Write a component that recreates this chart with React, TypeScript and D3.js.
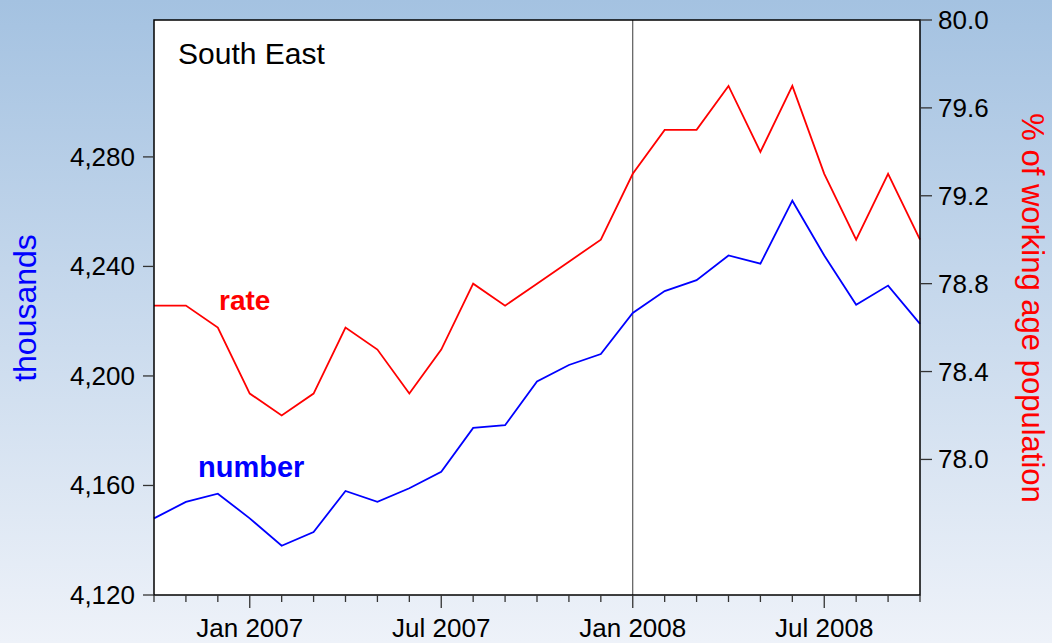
import React from "react";
import * as d3 from "d3";

const months = [
  "Oct 2006", "Nov 2006", "Dec 2006", "Jan 2007", "Feb 2007", "Mar 2007", "Apr 2007",
  "May 2007", "Jun 2007", "Jul 2007", "Aug 2007", "Sep 2007", "Oct 2007", "Nov 2007",
  "Dec 2007", "Jan 2008", "Feb 2008", "Mar 2008", "Apr 2008", "May 2008", "Jun 2008",
  "Jul 2008", "Aug 2008", "Sep 2008", "Oct 2008",
];
const numberSeries = [
  4148, 4154, 4157, 4148, 4138, 4143, 4158, 4154, 4159, 4165, 4181, 4182, 4198,
  4204, 4208, 4223, 4231, 4235, 4244, 4241, 4264, 4244, 4226, 4233, 4219,
];
const rateSeries = [
  78.7, 78.7, 78.6, 78.3, 78.2, 78.3, 78.6, 78.5, 78.3, 78.5, 78.8, 78.7, 78.8,
  78.9, 79.0, 79.3, 79.5, 79.5, 79.7, 79.4, 79.7, 79.3, 79.0, 79.3, 79.0,
];
const leftTicks = [4120, 4160, 4200, 4240, 4280];
const rightTicks = [78.0, 78.4, 78.8, 79.2, 79.6, 80.0];
const majorLabels = ["Jan 2007", "Jul 2007", "Jan 2008", "Jul 2008"];
const markerMonth = "Jan 2008";

const W = 1052;
const H = 643;
const L = 154;
const R = 920;
const T = 20;
const B = 595;
const FONT = "'Liberation Sans', Arial, sans-serif";

export default function App() {
  const x = d3.scaleLinear().domain([0, months.length - 1]).range([L, R]);
  const yL = d3.scaleLinear().domain([4120, 4330]).range([B, T]);
  const yR = d3.scaleLinear().domain([77.383, 80.0]).range([B, T]);

  const numLine = d3
    .line<number>()
    .x((_, i) => x(i))
    .y((d) => yL(d))(numberSeries) as string;
  const rateLine = d3
    .line<number>()
    .x((_, i) => x(i))
    .y((d) => yR(d))(rateSeries) as string;

  const fmt = d3.format(",");
  const markerX = x(months.indexOf(markerMonth));

  return (
    <div style={{ position: "fixed", left: 0, top: 0 }}>
      <svg width={W} height={H} style={{ display: "block" }}>
        <defs>
          <linearGradient id="bg" x1="0" y1="0" x2="0" y2="1">
            <stop offset="0" stopColor="#a4c2e1" />
            <stop offset="1" stopColor="#eef2f9" />
          </linearGradient>
        </defs>
        <rect x={0} y={0} width={W} height={H} fill="url(#bg)" />
        <rect x={L} y={T} width={R - L} height={B - T} fill="#ffffff" />

        {/* marker line */}
        <line x1={markerX} x2={markerX} y1={T} y2={B} stroke="#3a3a3a" strokeWidth={1} />

        {/* series */}
        <path d={rateLine} fill="none" stroke="#ff0000" strokeWidth={1.8} strokeLinejoin="miter" />
        <path d={numLine} fill="none" stroke="#0000ff" strokeWidth={1.8} strokeLinejoin="miter" />

        {/* frame */}
        <rect x={L} y={T} width={R - L} height={B - T} fill="none" stroke="#000" strokeWidth={1.5} />

        {/* left axis */}
        {leftTicks.map((t) => (
          <g key={"l" + t}>
            <line x1={L - 11} x2={L} y1={yL(t)} y2={yL(t)} stroke="#333" strokeWidth={1.3} />
            <text x={135} y={yL(t) + 9} textAnchor="end" fontFamily={FONT} fontSize={26} fill="#000">
              {fmt(t)}
            </text>
          </g>
        ))}

        {/* right axis */}
        {rightTicks.map((t) => (
          <g key={"r" + t}>
            <line x1={R} x2={R + 12} y1={yR(t)} y2={yR(t)} stroke="#333" strokeWidth={1.3} />
            <text x={938} y={yR(t) + 9} textAnchor="start" fontFamily={FONT} fontSize={26} fill="#000">
              {t.toFixed(1)}
            </text>
          </g>
        ))}

        {/* bottom axis */}
        {months.map((m, i) => {
          const major = majorLabels.includes(m);
          return (
            <g key={"m" + m}>
              <line x1={x(i)} x2={x(i)} y1={B} y2={B + (major ? 13 : 7)} stroke="#333" strokeWidth={1.3} />
              {major && (
                <text x={x(i)} y={637} textAnchor="middle" fontFamily={FONT} fontSize={26} fill="#000">
                  {m}
                </text>
              )}
            </g>
          );
        })}

        {/* titles and labels */}
        <text x={178} y={64} fontFamily={FONT} fontSize={30} fill="#000">
          South East
        </text>
        <text x={219} y={310} fontFamily={FONT} fontSize={28} fontWeight="bold" fill="#ff0000">
          rate
        </text>
        <text x={198} y={477} fontFamily={FONT} fontSize={29} fontWeight="bold" fill="#0000ff">
          number
        </text>
        <text
          transform="translate(36,308) rotate(-90)"
          textAnchor="middle"
          fontFamily={FONT}
          fontSize={32}
          fill="#0000ff"
        >
          thousands
        </text>
        <text
          transform="translate(1022,308) rotate(90)"
          textAnchor="middle"
          fontFamily={FONT}
          fontSize={31}
          fill="#ff0000"
        >
          % of working age population
        </text>
      </svg>
    </div>
  );
}
